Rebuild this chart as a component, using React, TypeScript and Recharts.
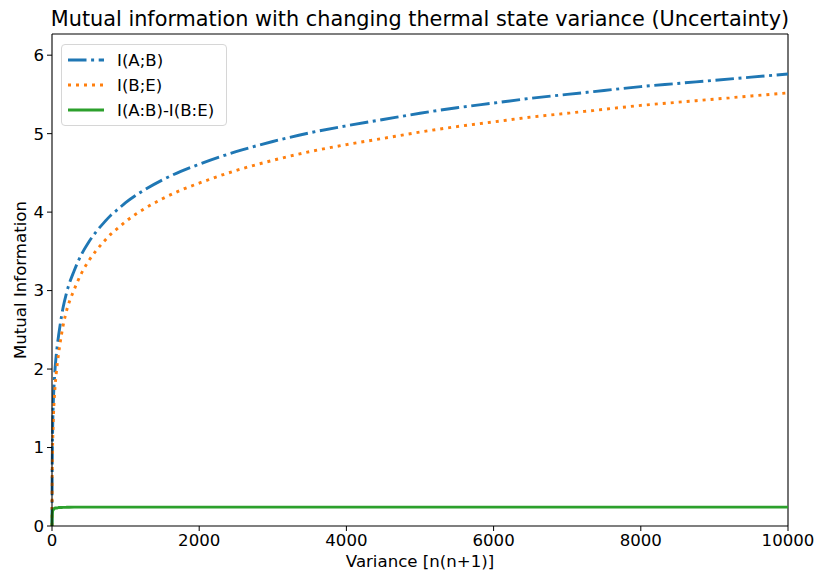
import React from 'react';
import { LineChart, Line, XAxis, YAxis, ReferenceLine } from 'recharts';

// variance n(n+1) on the x axis
const variance = [
  0, 2, 6, 12, 20, 30, 42, 56, 72, 90, 110, 150, 200, 300, 400, 500, 600, 700,
  800, 900, 1000, 1250, 1500, 1750, 2000, 2500, 3000, 3500, 4000, 4500, 5000,
  5500, 6000, 6500, 7000, 7500, 8000, 8500, 9000, 9500, 10000,
];

// I(A;B)
const iAB = [
  0, 0.6, 1.05, 1.38, 1.63, 1.83, 2.01, 2.16, 2.3, 2.43, 2.56, 2.78, 2.98, 3.25,
  3.46, 3.62, 3.75, 3.86, 3.96, 4.04, 4.12, 4.28, 4.41, 4.52, 4.61, 4.77, 4.9,
  5.01, 5.1, 5.18, 5.26, 5.33, 5.39, 5.45, 5.5, 5.55, 5.6, 5.64, 5.68, 5.72, 5.76,
];

// I(B;E)
const iBE = [
  0, 0.5, 0.88, 1.18, 1.42, 1.61, 1.78, 1.93, 2.07, 2.2, 2.33, 2.55, 2.75, 3.01,
  3.22, 3.38, 3.51, 3.62, 3.72, 3.8, 3.88, 4.04, 4.17, 4.28, 4.37, 4.53, 4.66,
  4.77, 4.86, 4.94, 5.02, 5.09, 5.15, 5.21, 5.26, 5.31, 5.36, 5.4, 5.44, 5.48, 5.52,
];

// I(A:B)-I(B:E)
const iDiff = [
  0, 0.1, 0.17, 0.2, 0.21, 0.22, 0.23, 0.23, 0.23, 0.235, 0.235, 0.237, 0.238,
  0.24, 0.24, 0.24, 0.24, 0.24, 0.24, 0.24, 0.24, 0.24, 0.24, 0.24, 0.24, 0.24,
  0.24, 0.24, 0.24, 0.24, 0.24, 0.24, 0.24, 0.24, 0.24, 0.24, 0.24, 0.24, 0.24,
  0.24, 0.24,
];

const xTicks = [0, 2000, 4000, 6000, 8000, 10000];
const yTicks = [0, 1, 2, 3, 4, 5, 6];
const Y_MAX = 6.27;
const X_MAX = 10000;

const rows = variance.map((v, i) => ({ v, ab: iAB[i], be: iBE[i], diff: iDiff[i] }));

const FONT = 'DejaVu Sans, sans-serif';
const tickStyle = { fontSize: 16.6, fill: '#000', fontFamily: FONT };

const BLUE_DASH = '18.5 4.6 3 4.6';
const ORANGE_DASH = '3 5';

const legendItems = [
  { label: 'I(A;B)', color: '#1f77b4', dash: BLUE_DASH },
  { label: 'I(B;E)', color: '#ff7f0e', dash: ORANGE_DASH },
  { label: 'I(A:B)-I(B:E)', color: '#2ca02c', dash: undefined },
];

export default function App() {
  return (
    <div
      style={{
        position: 'absolute',
        left: 0,
        top: 0,
        width: 816,
        height: 572,
        background: '#fff',
        fontFamily: FONT,
      }}
    >
      <div
        style={{
          position: 'absolute',
          top: 7,
          left: 0,
          width: 840,
          textAlign: 'center',
          fontSize: 20.8,
          lineHeight: '24px',
          whiteSpace: 'nowrap',
        }}
      >
        Mutual information with changing thermal state variance (Uncertainty)
      </div>
      <LineChart
        width={816}
        height={572}
        data={rows}
        margin={{ top: 34, right: 28, bottom: 0, left: 0 }}
      >
        <XAxis
          dataKey="v"
          type="number"
          domain={[0, X_MAX]}
          ticks={xTicks}
          height={46}
          tickSize={5}
          tickMargin={3}
          tick={tickStyle}
          stroke="#000"
          axisLine={{ stroke: '#000', strokeWidth: 1.1 }}
          tickLine={{ stroke: '#000' }}
        />
        <YAxis
          type="number"
          domain={[0, Y_MAX]}
          ticks={yTicks}
          width={52}
          tickSize={5}
          tickMargin={3}
          tick={tickStyle}
          allowDataOverflow
          axisLine={{ stroke: '#000', strokeWidth: 1.1 }}
          tickLine={{ stroke: '#000' }}
        />
        <ReferenceLine y={Y_MAX} stroke="#000" strokeWidth={1.1} />
        <ReferenceLine x={X_MAX} stroke="#000" strokeWidth={1.1} />
        <Line
          dataKey="ab"
          type="monotone"
          stroke="#1f77b4"
          strokeWidth={2.9}
          strokeDasharray={BLUE_DASH}
          dot={false}
          isAnimationActive={false}
        />
        <Line
          dataKey="be"
          type="monotone"
          stroke="#ff7f0e"
          strokeWidth={2.9}
          strokeDasharray={ORANGE_DASH}
          dot={false}
          isAnimationActive={false}
        />
        <Line
          dataKey="diff"
          type="monotone"
          stroke="#2ca02c"
          strokeWidth={2.9}
          dot={false}
          isAnimationActive={false}
        />
      </LineChart>
      <div
        style={{
          position: 'absolute',
          left: 61,
          top: 44,
          width: 164,
          height: 80,
          border: '1px solid #d6d6d6',
          borderRadius: 4,
          background: 'rgba(255,255,255,0.8)',
        }}
      >
        {legendItems.map((it, i) => (
          <div
            key={it.label}
            style={{
              position: 'absolute',
              left: 6,
              top: 3 + i * 25,
              height: 24,
              display: 'flex',
              alignItems: 'center',
              fontSize: 16.6,
              whiteSpace: 'nowrap',
            }}
          >
            <svg width={36} height={10} style={{ marginRight: 13 }}>
              <line
                x1={0}
                y1={5}
                x2={36}
                y2={5}
                stroke={it.color}
                strokeWidth={2.9}
                strokeDasharray={it.dash}
              />
            </svg>
            {it.label}
          </div>
        ))}
      </div>
      <div
        style={{
          position: 'absolute',
          left: 20,
          top: 280,
          transform: 'translate(-50%, -50%) rotate(-90deg)',
          fontSize: 16.6,
          whiteSpace: 'nowrap',
        }}
      >
        Mutual Information
      </div>
      <div
        style={{
          position: 'absolute',
          left: 420,
          top: 561,
          transform: 'translate(-50%, -50%)',
          fontSize: 16.6,
          whiteSpace: 'nowrap',
        }}
      >
        Variance [n(n+1)]
      </div>
    </div>
  );
}
